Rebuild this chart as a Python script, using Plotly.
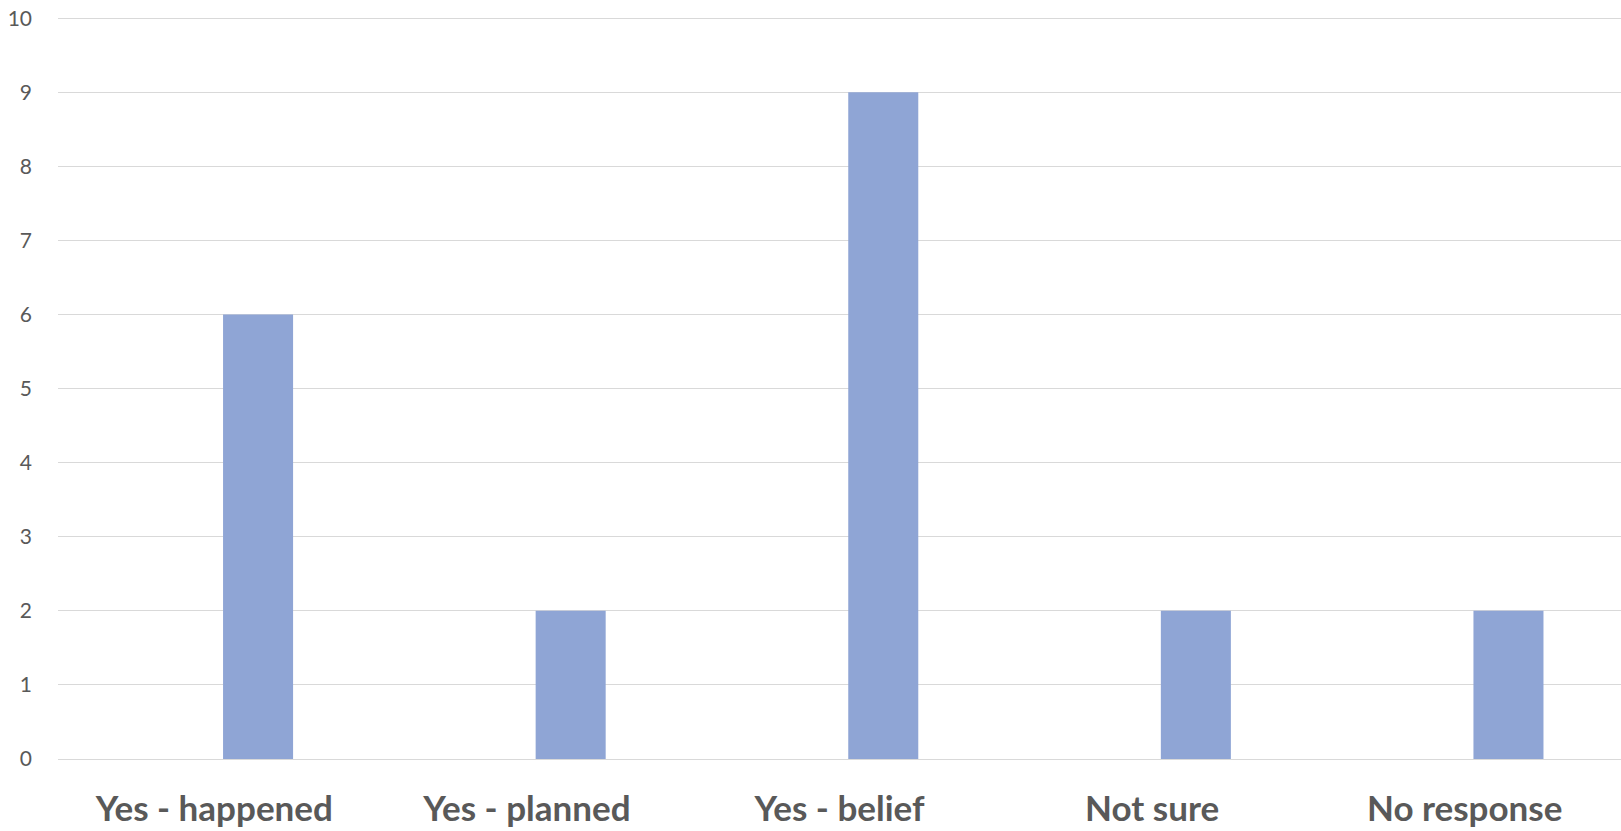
import plotly.graph_objects as go

categories = ["Yes - happened", "Yes - planned", "Yes - belief", "Not sure", "No response"]
values = [6, 2, 9, 2, 2]
y_ticks = list(range(0, 11))

fig = go.Figure()
fig.add_trace(go.Bar(
    x=categories,
    y=values,
    marker=dict(color="#8FA5D5", line=dict(width=0)),
    width=0.224,
    offset=0.028,
    hoverinfo="x+y",
))

fig.update_layout(
    width=1621,
    height=831,
    margin=dict(l=58, r=0, t=16, b=72),
    paper_bgcolor="white",
    plot_bgcolor="white",
    showlegend=False,
    font=dict(family="Lato, 'Open Sans', sans-serif", color="#595959"),
)
fig.update_xaxes(
    type="category",
    automargin=False,
    showgrid=False,
    showline=False,
    ticks="",
    tickfont=dict(size=35, color="#595959", family="Lato, sans-serif", weight="bold"),
    ticklabelstandoff=26,
)
fig.update_yaxes(
    range=[0, 10.03],
    automargin=False,
    tickvals=y_ticks,
    showgrid=True,
    gridcolor="#D9D9D9",
    gridwidth=1.3,
    zeroline=True,
    zerolinecolor="#D9D9D9",
    zerolinewidth=1.3,
    showline=False,
    ticks="",
    tickfont=dict(size=21, color="#595959", family="Lato, sans-serif"),
    ticklabelstandoff=25,
    ticklabeloverflow="allow",
)

fig.write_html(
    "out.html",
    config={"displayModeBar": False},
    post_script="document.body.style.margin='0';",
)
